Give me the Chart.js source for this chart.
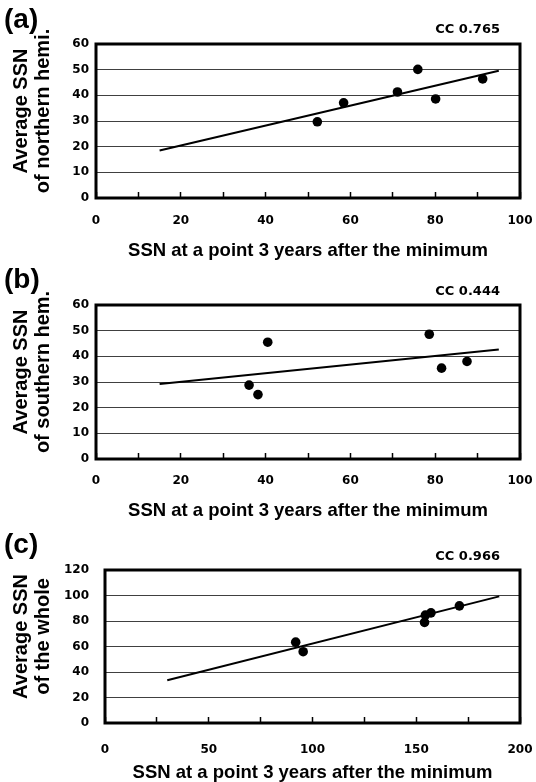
<!DOCTYPE html>
<html><head><meta charset="utf-8">
<script src="https://cdn.jsdelivr.net/npm/chart.js@4.4.0/dist/chart.umd.min.js"></script>
<style>
html,body{margin:0;padding:0;background:#fff;}
#wrap{position:relative;width:536px;height:782px;overflow:hidden;background:#fff;}
.panel{position:absolute;left:0;width:536px;}
.lbl{position:absolute;left:4px;font-family:'Liberation Sans',Arial,sans-serif;font-weight:bold;font-size:28px;line-height:28px;color:#000;}
.cc{position:absolute;right:36px;font-family:'DejaVu Sans',sans-serif;font-weight:bold;font-size:13px;line-height:13px;color:#000;white-space:nowrap;}
</style></head>
<body>
<div id="wrap">
  <div class="panel" style="top:0;height:260px"><canvas id="cA" width="536" height="260"></canvas></div>
  <div class="panel" style="top:260px;height:260px"><canvas id="cB" width="536" height="260"></canvas></div>
  <div class="panel" style="top:520px;height:262px"><canvas id="cC" width="536" height="262"></canvas></div>
  <div class="lbl" id="lA" style="top:5px"></div>
  <div class="lbl" id="lB" style="top:265px"></div>
  <div class="lbl" id="lC" style="top:530px"></div>
  <div class="cc" id="ccA" style="top:22px"></div>
  <div class="cc" id="ccB" style="top:284px"></div>
  <div class="cc" id="ccC" style="top:549px"></div>
</div>
<script>
// ---- data ----
const panelLabels = ['(a)', '(b)', '(c)'];
const ccTexts = ['CC 0.765', 'CC 0.444', 'CC 0.966'];
const xAxisTitle = 'SSN at a point 3 years after the minimum';
const yTitleA = ['Average SSN', 'of northern hemi.'];
const yTitleB = ['Average SSN', 'of southern hem.'];
const yTitleC = ['Average SSN', 'of the whole'];

// (a) northern hemisphere
const xA = [52.2, 58.4, 71.1, 75.9, 80.1, 91.2];
const yA = [29.7, 37.1, 41.3, 50.1, 38.6, 46.4];
const trendXA = [15, 95];
const trendYA = [18.5, 49.6];

// (b) southern hemisphere
const xB = [36.1, 38.2, 40.5, 78.6, 81.5, 87.5];
const yB = [28.8, 25.1, 45.5, 48.6, 35.4, 38.0];
const trendXB = [15, 95];
const trendYB = [29.2, 42.7];

// (c) whole
const xC = [91.9, 95.5, 154.0, 154.4, 157.1, 170.8];
const yC = [63.4, 55.9, 78.9, 84.6, 86.4, 91.9];
const trendXC = [30, 190];
const trendYC = [33.5, 99.3];

// axis ranges / ticks
const xMaxAB = 100, xStepAB = 10, xLabelStepAB = 20;
const yMaxAB = 60, yStepAB = 10;
const xMaxC = 200, xStepC = 25, xLabelStepC = 50;
const yMaxC = 120, yStepC = 20;

// ---- rendering ----
document.getElementById('lA').textContent = panelLabels[0];
document.getElementById('lB').textContent = panelLabels[1];
document.getElementById('lC').textContent = panelLabels[2];
document.getElementById('ccA').textContent = ccTexts[0];
document.getElementById('ccB').textContent = ccTexts[1];
document.getElementById('ccC').textContent = ccTexts[2];

const frame = {
  id: 'frame',
  afterDraw(chart) {
    const a = chart.chartArea, ctx = chart.ctx;
    ctx.save();
    ctx.strokeStyle = '#000';
    ctx.lineWidth = 3;
    ctx.strokeRect(a.left, a.top, a.right - a.left, a.bottom - a.top);
    ctx.restore();
  }
};

const tickFont = {family: "'DejaVu Sans', sans-serif", weight: 'bold', size: 12};
const titleFamily = "'Liberation Sans', Arial, sans-serif";

function pairs(xs, ys) { return xs.map((x, i) => ({x: x, y: ys[i]})); }

function makeChart(id, xs, ys, tx, ty, ax, lay, yTitle) {
  return new Chart(document.getElementById(id), {
    type: 'scatter',
    data: {
      datasets: [
        {data: pairs(xs, ys), pointRadius: 4.8, pointHoverRadius: 4.8, backgroundColor: '#000', borderColor: '#000', borderWidth: 0, showLine: false, order: 1},
        {data: pairs(tx, ty), showLine: true, pointRadius: 0, borderColor: '#000', borderWidth: 2, fill: false, order: 2}
      ]
    },
    options: {
      responsive: false, animation: false, devicePixelRatio: 1,
      layout: {padding: {top: lay.top, right: lay.right, left: 0, bottom: 0}},
      plugins: {legend: {display: false}, tooltip: {enabled: false}},
      scales: {
        x: {
          type: 'linear', position: 'bottom', min: 0, max: ax.xMax,
          ticks: {stepSize: ax.xStep, autoSkip: false, maxRotation: 0, padding: lay.xPad, font: tickFont, color: '#000',
            callback: (v) => (v % ax.xLabelStep === 0 ? String(v) : '')},
          grid: {drawOnChartArea: false, drawTicks: true, tickLength: -6, tickWidth: 1.5, tickColor: '#000'},
          border: {display: false},
          title: {display: true, text: xAxisTitle, color: '#000', font: {family: titleFamily, weight: 'bold', size: 18.5, lineHeight: 1}, padding: {top: 0, bottom: 0}},
          afterFit: (s) => { s.height = lay.xH; s.paddingLeft = 0; s.paddingRight = 0; }
        },
        y: {
          type: 'linear', min: 0, max: ax.yMax,
          ticks: {stepSize: ax.yStep, padding: lay.yPad, font: tickFont, color: '#000'},
          grid: {color: '#404040', lineWidth: 1, drawTicks: false},
          border: {display: false},
          title: {display: true, text: yTitle, color: '#000', font: {family: titleFamily, weight: 'bold', size: 20, lineHeight: 1.1}, padding: {top: 10, bottom: 0}},
          afterFit: (s) => { s.width = lay.yW; s.paddingTop = 0; s.paddingBottom = 0; }
        }
      }
    },
    plugins: [frame]
  });
}

const axAB = {xMax: xMaxAB, xStep: xStepAB, xLabelStep: xLabelStepAB, yMax: yMaxAB, yStep: yStepAB};
const axC = {xMax: xMaxC, xStep: xStepC, xLabelStep: xLabelStepC, yMax: yMaxC, yStep: yStepC};

makeChart('cA', xA, yA, trendXA, trendYA, axAB, {top: 44, right: 16, xH: 62, yW: 96, yPad: 7, xPad: 22}, yTitleA.map(t => '\u2003' + t));
makeChart('cB', xB, yB, trendXB, trendYB, axAB, {top: 45, right: 16, xH: 61, yW: 96, yPad: 7, xPad: 21}, yTitleB.map(t => '\u2003' + t));
makeChart('cC', xC, yC, trendXC, trendYC, axC, {top: 50, right: 16, xH: 59, yW: 105, yPad: 16, xPad: 26}, yTitleC.map(t => '\u2003' + t));
</script>
</body></html>
